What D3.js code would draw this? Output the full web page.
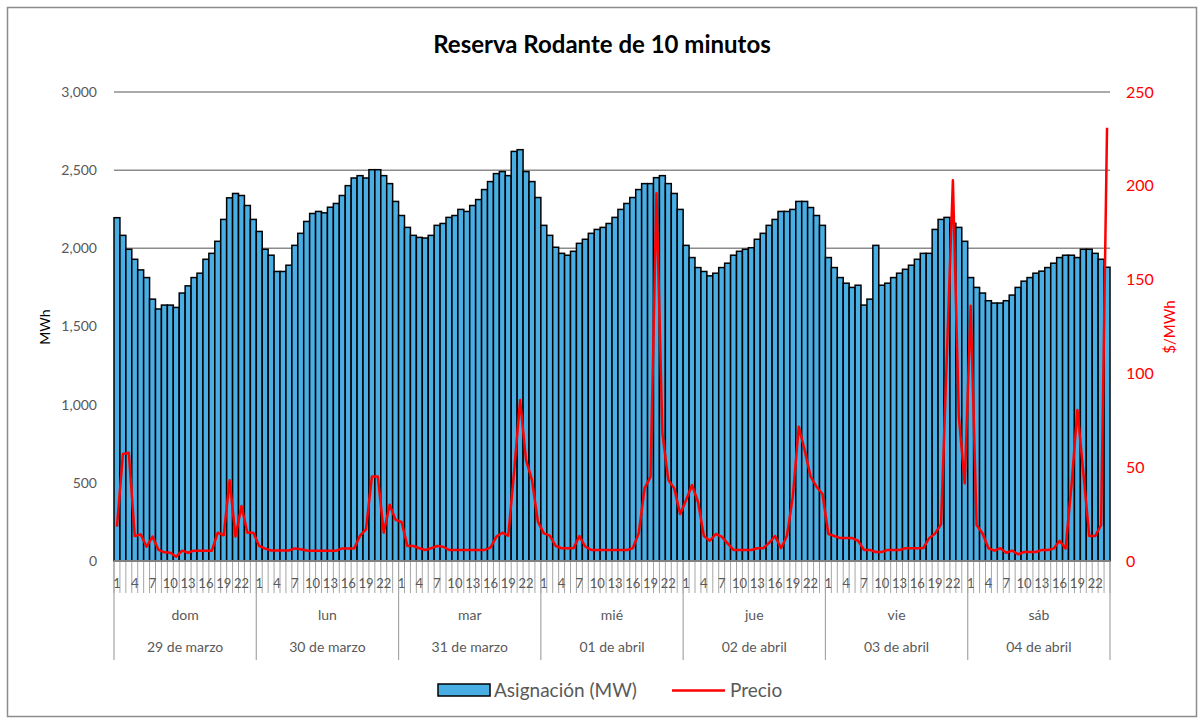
<!DOCTYPE html>
<html>
<head>
<meta charset="utf-8">
<script src="https://cdn.jsdelivr.net/npm/d3@7"></script>
<style>
  body { margin: 0; background: #fff; }
  text { font-family: Lato, "Open Sans", sans-serif; }
</style>
</head>
<body>
<div class="canvas"></div>
<script>
// data
const days = ['dom', 'lun', 'mar', 'mié', 'jue', 'vie', 'sáb'];
const dates = ['29 de marzo', '30 de marzo', '31 de marzo', '01 de abril', '02 de abril', '03 de abril', '04 de abril'];
const hourLabels = [1, 4, 7, 10, 13, 16, 19, 22];

// Asignación (MW), 24 values per day
const asignacion = [
  // dom
  2196, 2083, 1994, 1930, 1862, 1813, 1675, 1612, 1637, 1637, 1622, 1714, 1760, 1813, 1841, 1930, 1968, 2045, 2185, 2323, 2351, 2338, 2274, 2185,
  // lun
  2108, 1994, 1956, 1852, 1852, 1892, 2019, 2096, 2172, 2223, 2236, 2227, 2263, 2287, 2338, 2401, 2450, 2465, 2450, 2503, 2503, 2465, 2414, 2300,
  // mar
  2210, 2134, 2083, 2070, 2066, 2083, 2147, 2159, 2198, 2210, 2249, 2236, 2274, 2312, 2376, 2427, 2478, 2491, 2465, 2620, 2631, 2491, 2427, 2325,
  // mié
  2147, 2083, 2007, 1968, 1956, 1981, 2032, 2058, 2096, 2121, 2134, 2159, 2198, 2249, 2287, 2325, 2376, 2414, 2414, 2452, 2465, 2414, 2351, 2249,
  // jue
  2019, 1941, 1877, 1852, 1824, 1841, 1877, 1905, 1956, 1981, 1994, 2004, 2058, 2096, 2147, 2185, 2236, 2236, 2249, 2300, 2300, 2261, 2210, 2147,
  // vie
  1941, 1877, 1813, 1777, 1750, 1764, 1637, 1675, 2019, 1764, 1777, 1813, 1841, 1866, 1892, 1930, 1968, 1968, 2121, 2185, 2198, 2160, 2134, 2045,
  // sáb
  1813, 1750, 1714, 1665, 1650, 1650, 1665, 1701, 1750, 1790, 1813, 1841, 1854, 1877, 1905, 1941, 1956, 1956, 1941, 1994, 1994, 1968, 1930, 1879
];

// Precio ($/MWh)
const precio = [
  // dom
  18.3, 57, 57.7, 13.3, 14.2, 7.6, 13, 5.9, 4.6, 4.4, 2.3, 5.5, 4.4, 5.5, 5.5, 5.5, 5.5, 15.1, 13.7, 43, 13, 29.3, 15.1, 15.1,
  // lun
  8, 6.6, 5.6, 5.6, 5.6, 5.6, 6.7, 6.3, 5.6, 5.5, 5.5, 5.5, 5.5, 5.5, 6.7, 6.7, 6.7, 13.5, 16.9, 45, 45, 15.1, 30, 21.9,
  // mar
  20.8, 8, 8, 6.8, 5.9, 6.8, 8, 7.6, 5.9, 5.9, 5.9, 5.9, 5.9, 5.9, 5.9, 7.1, 13, 15.1, 13.5, 48, 85.8, 53.8, 43.2, 21,
  // mié
  14.7, 13.5, 8, 6.8, 6.8, 6.8, 13.3, 7.6, 5.9, 5.9, 5.9, 5.9, 5.9, 5.9, 5.9, 6.8, 14.7, 38.7, 45, 196, 68, 43.2, 38.7, 25,
  // jue
  32.5, 40.5, 31.6, 13.3, 10.8, 14.4, 13, 9.4, 5.9, 5.9, 5.9, 5.9, 6.8, 6.8, 9.7, 13.3, 6.8, 13.3, 34.3, 71.6, 59, 45, 39.6, 35.7,
  // vie
  14.4, 13.3, 12.2, 12.2, 12.2, 10.8, 5.9, 5.9, 4.8, 4.8, 5.9, 5.9, 5.9, 6.8, 6.8, 6.8, 6.8, 12.2, 14.7, 19.5, 111, 203, 77, 41.4,
  // sáb
  136, 19.2, 14.7, 6.8, 5.5, 6.8, 4.4, 5.5, 3.6, 4.8, 4.8, 4.8, 5.9, 5.9, 6.6, 10.8, 6.6, 40, 80.5, 47, 13.3, 13.3, 19.2, 231
];

const leftTicks = [0, 500, 1000, 1500, 2000, 2500, 3000];
const rightTicks = [0, 50, 100, 150, 200, 250];

// sizes
const width = 1202, height = 721;
const plot = {left: 114, right: 1110, top: 92, bottom: 561};
const gray = '#595959';

const svg = d3.select('.canvas').append('svg')
    .attr('width', width)
    .attr('height', height);

// chart frame
svg.append('rect')
    .attr('x', 7.5).attr('y', 7.5)
    .attr('width', 1189).attr('height', 709)
    .attr('fill', 'none')
    .attr('stroke', '#8c8c8c')
    .attr('stroke-width', 1.5);

// title
svg.append('text')
    .attr('x', 602).attr('y', 53)
    .attr('text-anchor', 'middle')
    .attr('font-size', 24)
    .attr('font-weight', 'bold')
    .attr('fill', '#000')
    .text('Reserva Rodante de 10 minutos');

// scales
const x = d3.scaleBand()
    .domain(d3.range(asignacion.length))
    .range([plot.left, plot.right])
    .padding(0);
const y = d3.scaleLinear().domain([0, 3000]).range([plot.bottom, plot.top]);
const y2 = d3.scaleLinear().domain([0, 250]).range([plot.bottom, plot.top]);

// gridlines
svg.append('g').selectAll('line')
    .data(leftTicks.filter(d => d > 0))
    .join('line')
    .attr('x1', plot.left).attr('x2', plot.right)
    .attr('y1', d => y(d)).attr('y2', d => y(d))
    .attr('stroke', '#8c8c8c')
    .attr('stroke-width', 1.5);

// bars
svg.append('g').selectAll('rect')
    .data(asignacion)
    .join('rect')
    .attr('x', (d, i) => x(i))
    .attr('y', d => y(d))
    .attr('width', x.bandwidth())
    .attr('height', d => y(0) - y(d))
    .attr('fill', '#48aee4')
    .attr('stroke', '#000')
    .attr('stroke-width', 1.5);

// price line
const line = d3.line()
    .x((d, i) => x(i) + x.bandwidth() / 2)
    .y(d => y2(d));
svg.append('path')
    .datum(precio)
    .attr('d', line)
    .attr('fill', 'none')
    .attr('stroke', '#ff0000')
    .attr('stroke-width', 2.5)
    .attr('stroke-linejoin', 'round');

// left axis
const yAxis = d3.axisLeft(y)
    .tickValues(leftTicks)
    .tickFormat(d3.format(','))
    .tickSize(0)
    .tickPadding(17);
const yAxisGroup = svg.append('g')
    .attr('transform', `translate(${plot.left}, 0)`)
    .call(yAxis);
yAxisGroup.select('.domain').remove();
yAxisGroup.selectAll('text')
    .attr('font-family', 'Lato, sans-serif')
    .attr('font-size', 14)
    .attr('fill', gray);

// right axis
const y2Axis = d3.axisRight(y2)
    .tickValues(rightTicks)
    .tickSize(0)
    .tickPadding(16);
const y2AxisGroup = svg.append('g')
    .attr('transform', `translate(${plot.right}, 0)`)
    .call(y2Axis);
y2AxisGroup.select('.domain').remove();
y2AxisGroup.selectAll('text')
    .attr('font-family', 'Lato, sans-serif')
    .attr('font-size', 16)
    .attr('fill', '#ff0000');

// axis titles
svg.append('text')
    .attr('transform', 'translate(50, 327) rotate(-90)')
    .attr('text-anchor', 'middle')
    .attr('font-size', 14)
    .attr('fill', '#000')
    .text('MWh');
svg.append('text')
    .attr('transform', 'translate(1175, 327) rotate(-90)')
    .attr('text-anchor', 'middle')
    .attr('font-size', 15)
    .attr('fill', '#ff0000')
    .text('$/MWh');

// category axis: hour ticks, day separators, labels
const xAxisGroup = svg.append('g');
xAxisGroup.selectAll('line.hour')
    .data(d3.range(asignacion.length + 1))
    .join('line')
    .attr('class', 'hour')
    .attr('x1', i => i < asignacion.length ? x(i) : plot.right)
    .attr('x2', i => i < asignacion.length ? x(i) : plot.right)
    .attr('y1', plot.bottom).attr('y2', 593)
    .attr('stroke', '#a6a6a6')
    .attr('stroke-width', 1);

xAxisGroup.selectAll('line.day')
    .data(d3.range(days.length + 1))
    .join('line')
    .attr('class', 'day')
    .attr('x1', d => d < days.length ? x(d * 24) : plot.right)
    .attr('x2', d => d < days.length ? x(d * 24) : plot.right)
    .attr('y1', plot.bottom).attr('y2', 660)
    .attr('stroke', '#a6a6a6')
    .attr('stroke-width', 1.2);

xAxisGroup.append('line')
    .attr('x1', plot.left).attr('x2', plot.right)
    .attr('y1', plot.bottom).attr('y2', plot.bottom)
    .attr('stroke', '#808080')
    .attr('stroke-width', 2);

const hourData = [];
days.forEach((d, di) => hourLabels.forEach(h => hourData.push(di * 24 + h - 1)));
xAxisGroup.selectAll('text.hour')
    .data(hourData)
    .join('text')
    .attr('class', 'hour')
    .attr('x', i => x(i) + x.bandwidth() / 2)
    .attr('y', 588)
    .attr('text-anchor', 'middle')
    .attr('font-size', 13)
    .attr('fill', gray)
    .text(i => (i % 24) + 1);

xAxisGroup.selectAll('text.dayname')
    .data(days)
    .join('text')
    .attr('class', 'dayname')
    .attr('x', (d, i) => (x(i * 24) + (i < 6 ? x(i * 24 + 24) : plot.right)) / 2)
    .attr('y', 620)
    .attr('text-anchor', 'middle')
    .attr('font-size', 14)
    .attr('fill', gray)
    .text(d => d);

xAxisGroup.selectAll('text.date')
    .data(dates)
    .join('text')
    .attr('class', 'date')
    .attr('x', (d, i) => (x(i * 24) + (i < 6 ? x(i * 24 + 24) : plot.right)) / 2)
    .attr('y', 652)
    .attr('text-anchor', 'middle')
    .attr('font-size', 14)
    .attr('fill', gray)
    .text(d => d);

// legend
const legend = svg.append('g');
legend.append('rect')
    .attr('x', 438).attr('y', 684)
    .attr('width', 52).attr('height', 12)
    .attr('fill', '#48aee4')
    .attr('stroke', '#000')
    .attr('stroke-width', 1.5);
legend.append('text')
    .attr('x', 494).attr('y', 697)
    .attr('font-size', 19)
    .attr('fill', gray)
    .text('Asignación (MW)');
legend.append('line')
    .attr('x1', 672).attr('x2', 725)
    .attr('y1', 690.5).attr('y2', 690.5)
    .attr('stroke', '#ff0000')
    .attr('stroke-width', 2.5);
legend.append('text')
    .attr('x', 730).attr('y', 697)
    .attr('font-size', 19)
    .attr('fill', gray)
    .text('Precio');
</script>
</body>
</html>
